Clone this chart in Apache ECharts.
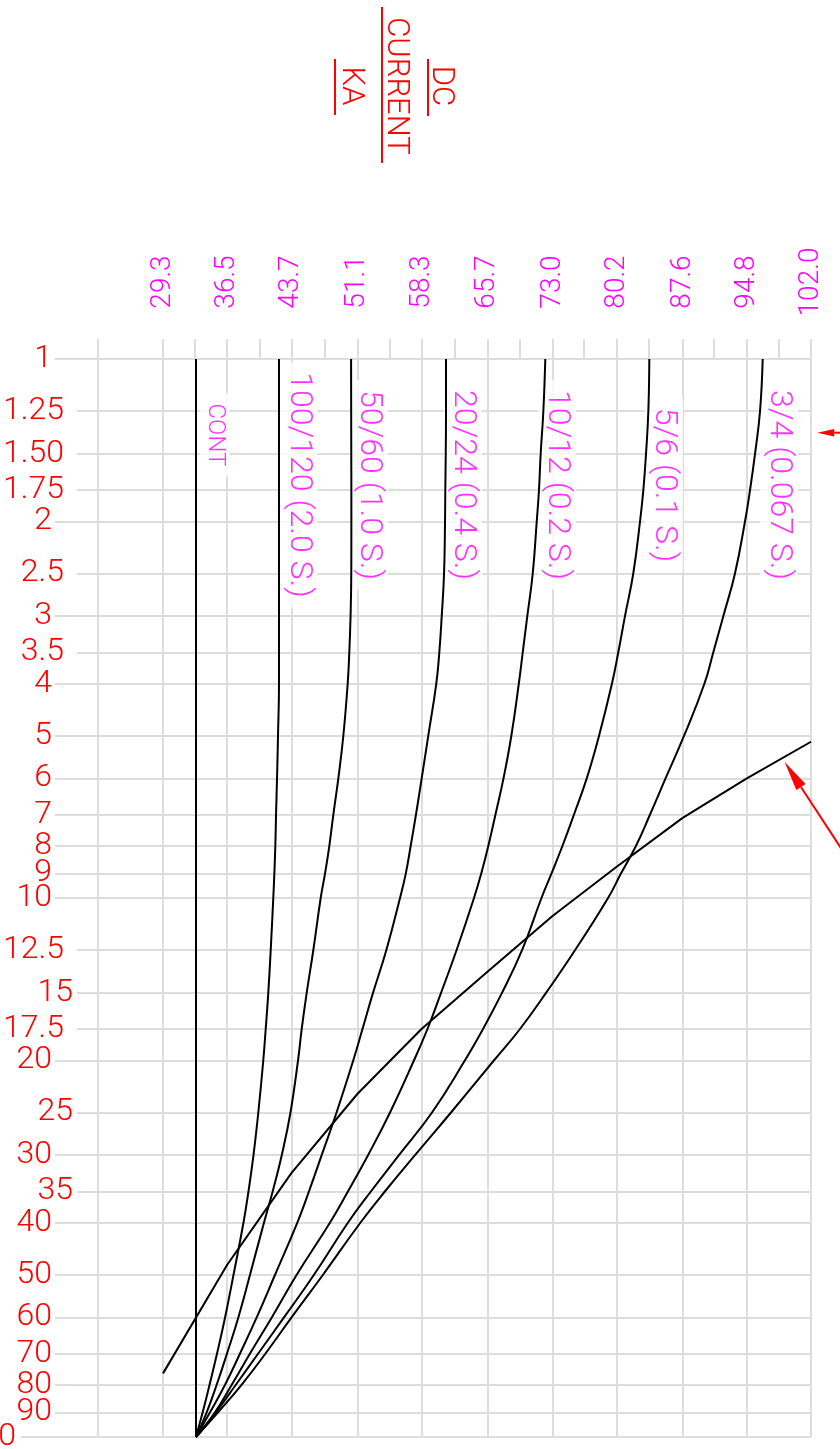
<!DOCTYPE html>
<html><head><meta charset="utf-8">
<script src="https://cdn.jsdelivr.net/npm/echarts@6/dist/echarts.min.js"></script>
<style>html,body{margin:0;padding:0;background:#fff}#c{width:840px;height:1449px}</style>
</head><body><div id="c"></div><script>
// ---------- DATA ----------
// Y (log) tick values and their printed labels
const yTicks = [1,1.25,1.5,1.75,2,2.5,3,3.5,4,5,6,7,8,9,10,12.5,15,17.5,20,25,30,35,40,50,60,70,80,90,100];
const yTickLabels = ['1','1.25','1.50','1.75','2','2.5','3','3.5','4','5','6','7','8','9','10','12.5','15','17.5','20','25','30','35','40','50','60','70','80','90','100'];
// X (DC current, kA) tick labels, first unlabeled grid line, minor ticks
const xTickLabels = [29.3,36.5,43.7,51.1,58.3,65.7,73.0,80.2,87.6,94.8,102.0];
const xFirstGrid = [22.03];
const xMinorTicks = [32.9,40.18,47.47,54.71,62.06,69.30,76.53,83.83,91.12,98.41];
// Curves sampled at these y levels
const curveLevels = [1,1.25,1.5,1.75,2,2.5,3,3.5,4,5,6,7,8,9,10,12.5,15,17.5,20,25,30,35,40,50,60,70,80,90,100];
const contX = [33.0, 33.0];
const contY = [1, 100];
const c100_120 = [42.31,42.31,42.31,42.31,42.31,42.31,42.31,42.31,42.31,42.20,42.09,41.98,41.90,41.79,41.67,41.38,41.11,40.82,40.55,39.99,39.45,38.89,38.33,37.21,36.26,35.36,34.52,33.75,33.0];
const c50_60   = [50.40,50.41,50.42,50.43,50.43,50.42,50.34,50.20,50.02,49.53,48.97,48.41,47.96,47.48,46.99,46.16,45.42,44.86,44.45,43.60,42.62,41.61,40.63,39.06,37.75,36.48,35.32,34.20,33.0];
const c20_24   = [61.05,61.05,61.02,60.97,60.94,60.83,60.57,60.30,59.96,59.06,58.32,57.68,57.09,56.54,55.89,54.35,52.86,51.68,50.65,48.77,47.10,45.68,44.37,41.87,39.81,37.94,36.26,34.57,33.0];
const c10_12   = [72.19,71.97,71.67,71.48,71.23,70.78,70.17,69.66,69.22,68.38,67.50,66.60,65.80,65.01,64.19,62.23,60.49,58.97,57.46,54.77,52.30,50.06,48.04,44.30,41.50,39.06,37.01,35.13,33.0];
const c5_6     = [83.86,83.75,83.49,83.19,82.82,82.06,81.13,80.38,79.67,78.22,76.84,75.41,74.12,72.89,71.76,69.58,67.33,65.20,63.18,59.48,55.77,52.64,50.06,46.24,42.87,39.98,37.47,35.24,33.0];
const c3_4     = [96.58,96.28,95.72,95.16,94.60,93.47,92.16,91.04,90.05,87.76,85.68,83.94,82.37,80.69,79.23,75.52,72.27,69.35,66.44,61.61,57.57,54.21,51.46,47.25,43.72,40.80,38.11,35.47,33.0];
// Crossing (limit) curve
const limitX = [102.0,94.8,87.6,80.2,73.0,65.7,58.3,51.1,43.7,36.5,29.3];
const limitY = [5.13,6.0,7.1,8.75,10.8,13.7,17.5,23.1,32.4,47.9,76.2];
// Curve annotations
const curveNames = ['CONT','100/120 (2.0 S.)','50/60 (1.0 S.)','20/24 (0.4 S.)','10/12 (0.2 S.)','5/6 (0.1 S.)','3/4 (0.067 S.)'];
const labelX = [35.08,44.50,52.41,62.96,73.50,85.50,98.41];
const labelY = [1.383,1.713,1.713,1.713,1.713,1.713,1.713];
// Red arrows (data units)
const arrowFrom = [[105.3,1.37],[105.8,8.29]];
const arrowTo   = [[102.7,1.37],[99.03,5.59]];
const titleLines = ['DC','CURRENT','KA'];

// ---------- STYLE ----------
const FONT = 'Roboto';
const FW = 300;
const GRID = '#dddddd';
const RED = '#ff0000';
const MAG = '#ff00ff';
const headLen = [17, 30];
const headHalf = [3.8, 5.5];
const X_MIN = 17.18, X_MAX = 102.0;

const chart = echarts.init(document.getElementById('c'), null, {renderer:'canvas'});

const lastTick = yTicks[yTicks.length - 1];
// labels are split over two overlaid axes so none of them gets dropped as "overlapping";
// the bottom label is drawn separately (it sits off the page edge)
const yLabA = yTicks.filter((t,i)=> i % 2 === 0 && i < yTicks.length - 1);
const yLabB = yTicks.filter((t,i)=> i % 2 === 1 && i < yTicks.length - 1);

function yLabelKey(s){
  if (['1.25','1.50','1.75','2.5','3.5','12.5','17.5'].includes(s)) return 'i';
  if (['15','25','35'].includes(s)) return 'j';
  return 'm';
}
function yFmt(v){
  let best = 0, bd = Infinity;
  yTicks.forEach((t,i)=>{ const d = Math.abs(Math.log(t) - Math.log(v)); if (d < bd){bd=d;best=i;} });
  const s = yTickLabels[best];
  return '{' + yLabelKey(s) + '|' + s + '}';
}
const rs = {color:RED, fontFamily:FONT, fontWeight:FW, fontSize:32, lineHeight:20};
const yRich = {
  m:Object.assign({padding:[0,25,0,0]}, rs),
  i:Object.assign({padding:[0,13,0,3], backgroundColor:'#fff'}, rs),
  j:Object.assign({padding:[0,4,0,3], backgroundColor:'#fff'}, rs)
};
function yAxisDef(labels, withGrid){
  return {type:'log', logBase:10, min:1, max:100, inverse:true, position:'left',
    axisLine:{show:false},
    axisTick:{show:false, customValues: withGrid ? yTicks : labels},
    axisLabel:{show:true, customValues:labels, margin:-22, align:'right', verticalAlign:'middle', formatter:yFmt,
      hideOverlap:false, rich:yRich},
    splitLine:{show:withGrid, lineStyle:{color:GRID, width:2}}};
}

function curve(xs){
  return {
    type:'line', xAxisIndex:1, yAxisIndex:0, symbol:'none', smooth:0.45,
    data: xs.map((x,i)=>[x, curveLevels[i]]),
    lineStyle:{color:'#000', width:2}, z:3, silent:true
  };
}

const titleChildren = [];
const tPos = [-45, 0, 45];
const uLine = [[-27,30,-32],[-79,77,14],[-27,29,61]];
titleLines.forEach((t,i)=>{
  titleChildren.push({type:'text', x:0, y:tPos[i], style:{text:t, fill:RED, font:'300 31px Roboto', align:'center', verticalAlign:'middle'}});
  titleChildren.push({type:'line', shape:{x1:uLine[i][0], y1:uLine[i][2], x2:uLine[i][1], y2:uLine[i][2]}, style:{stroke:RED, lineWidth:2}});
});

const option = {
  animation:false,
  backgroundColor:'#fff',
  grid:{left:55, right:29, top:359, bottom:12, containLabel:false, outerBoundsMode:'none'},
  xAxis:[
    {type:'value', position:'top', min:X_MIN, max:X_MAX,
     axisLine:{show:false},
     axisTick:{show:true, customValues:xMinorTicks, length:20, lineStyle:{color:GRID, width:2}},
     axisLabel:{show:false}, splitLine:{show:false}},
    {type:'value', position:'top', min:X_MIN, max:X_MAX,
     axisLine:{show:false},
     axisTick:{show:true, customValues:xFirstGrid.concat(xTickLabels), length:20, lineStyle:{color:GRID, width:2}},
     axisLabel:{show:true, customValues:xTickLabels, rotate:-90, margin:77, align:'center', verticalAlign:'middle',
       showMinLabel:true, showMaxLabel:true,
       color:MAG, fontFamily:FONT, fontWeight:FW, fontSize:28, formatter:v=>Number(v).toFixed(1)},
     splitLine:{show:true, lineStyle:{color:GRID, width:2}}}
  ],
  yAxis:[ yAxisDef(yLabA, true), yAxisDef(yLabB, false) ],
  graphic:[{type:'group', id:'title', x:396, y:86, rotation:-Math.PI/2, children:titleChildren}],
  series:[
    {type:'line', xAxisIndex:1, symbol:'none', data:contX.map((x,i)=>[x, contY[i]]), lineStyle:{color:'#000', width:2}, z:3, silent:true},
    curve(c100_120), curve(c50_60), curve(c20_24), curve(c10_12), curve(c5_6), curve(c3_4),
    {type:'line', xAxisIndex:1, symbol:'none', data:limitX.map((x,i)=>[x, limitY[i]]), lineStyle:{color:'#000', width:2}, z:3, silent:true},
    {type:'scatter', xAxisIndex:1, symbolSize:1, itemStyle:{color:'rgba(0,0,0,0)'}, z:2, silent:true,
     data:curveNames.map((n,i)=>({name:n, value:[labelX[i], labelY[i]], label: n==='CONT' ? {fontSize:24} : {}})),
     label:{show:true, position:'inside', rotate:-90, formatter:'{b}', color:MAG, fontFamily:FONT, fontWeight:FW, fontSize:32,
       align:'center', verticalAlign:'middle', backgroundColor:'#fff', padding:[3,10,3,10]}}
  ]
};
chart.setOption(option);

// arrows and the bottom tick label, positioned through the chart's own scales
const toPx = p => chart.convertToPixel({xAxisIndex:1, yAxisIndex:0}, p);
const extra = [];
arrowFrom.forEach((f,i)=>{
  const a = toPx(f), b = toPx(arrowTo[i]);
  const dx = b[0]-a[0], dy = b[1]-a[1], L = Math.hypot(dx,dy);
  const ux = dx/L, uy = dy/L, px = -uy, py = ux;
  const bx = b[0]-ux*headLen[i], by = b[1]-uy*headLen[i];
  extra.push({type:'line', id:'al'+i, shape:{x1:a[0], y1:a[1], x2:bx, y2:by}, style:{stroke:RED, lineWidth:2}, z:10});
  extra.push({type:'polygon', id:'ah'+i, shape:{points:[[b[0],b[1]],[bx+px*headHalf[i], by+py*headHalf[i]],[bx-px*headHalf[i], by-py*headHalf[i]]]}, style:{fill:RED}, z:10});
});
const pb = toPx([X_MIN, lastTick]);
extra.push({type:'line', id:'bl', shape:{x1:pb[0]-34, y1:pb[1], x2:pb[0], y2:pb[1]}, style:{stroke:GRID, lineWidth:2}, z:0});
extra.push({type:'text', id:'bt', x:pb[0]-39, y:pb[1], style:{text:yTickLabels[yTickLabels.length-1], fill:RED, font:'300 32px Roboto', align:'right', verticalAlign:'middle'}, z:5});
chart.setOption({graphic: extra});
</script></body></html>
